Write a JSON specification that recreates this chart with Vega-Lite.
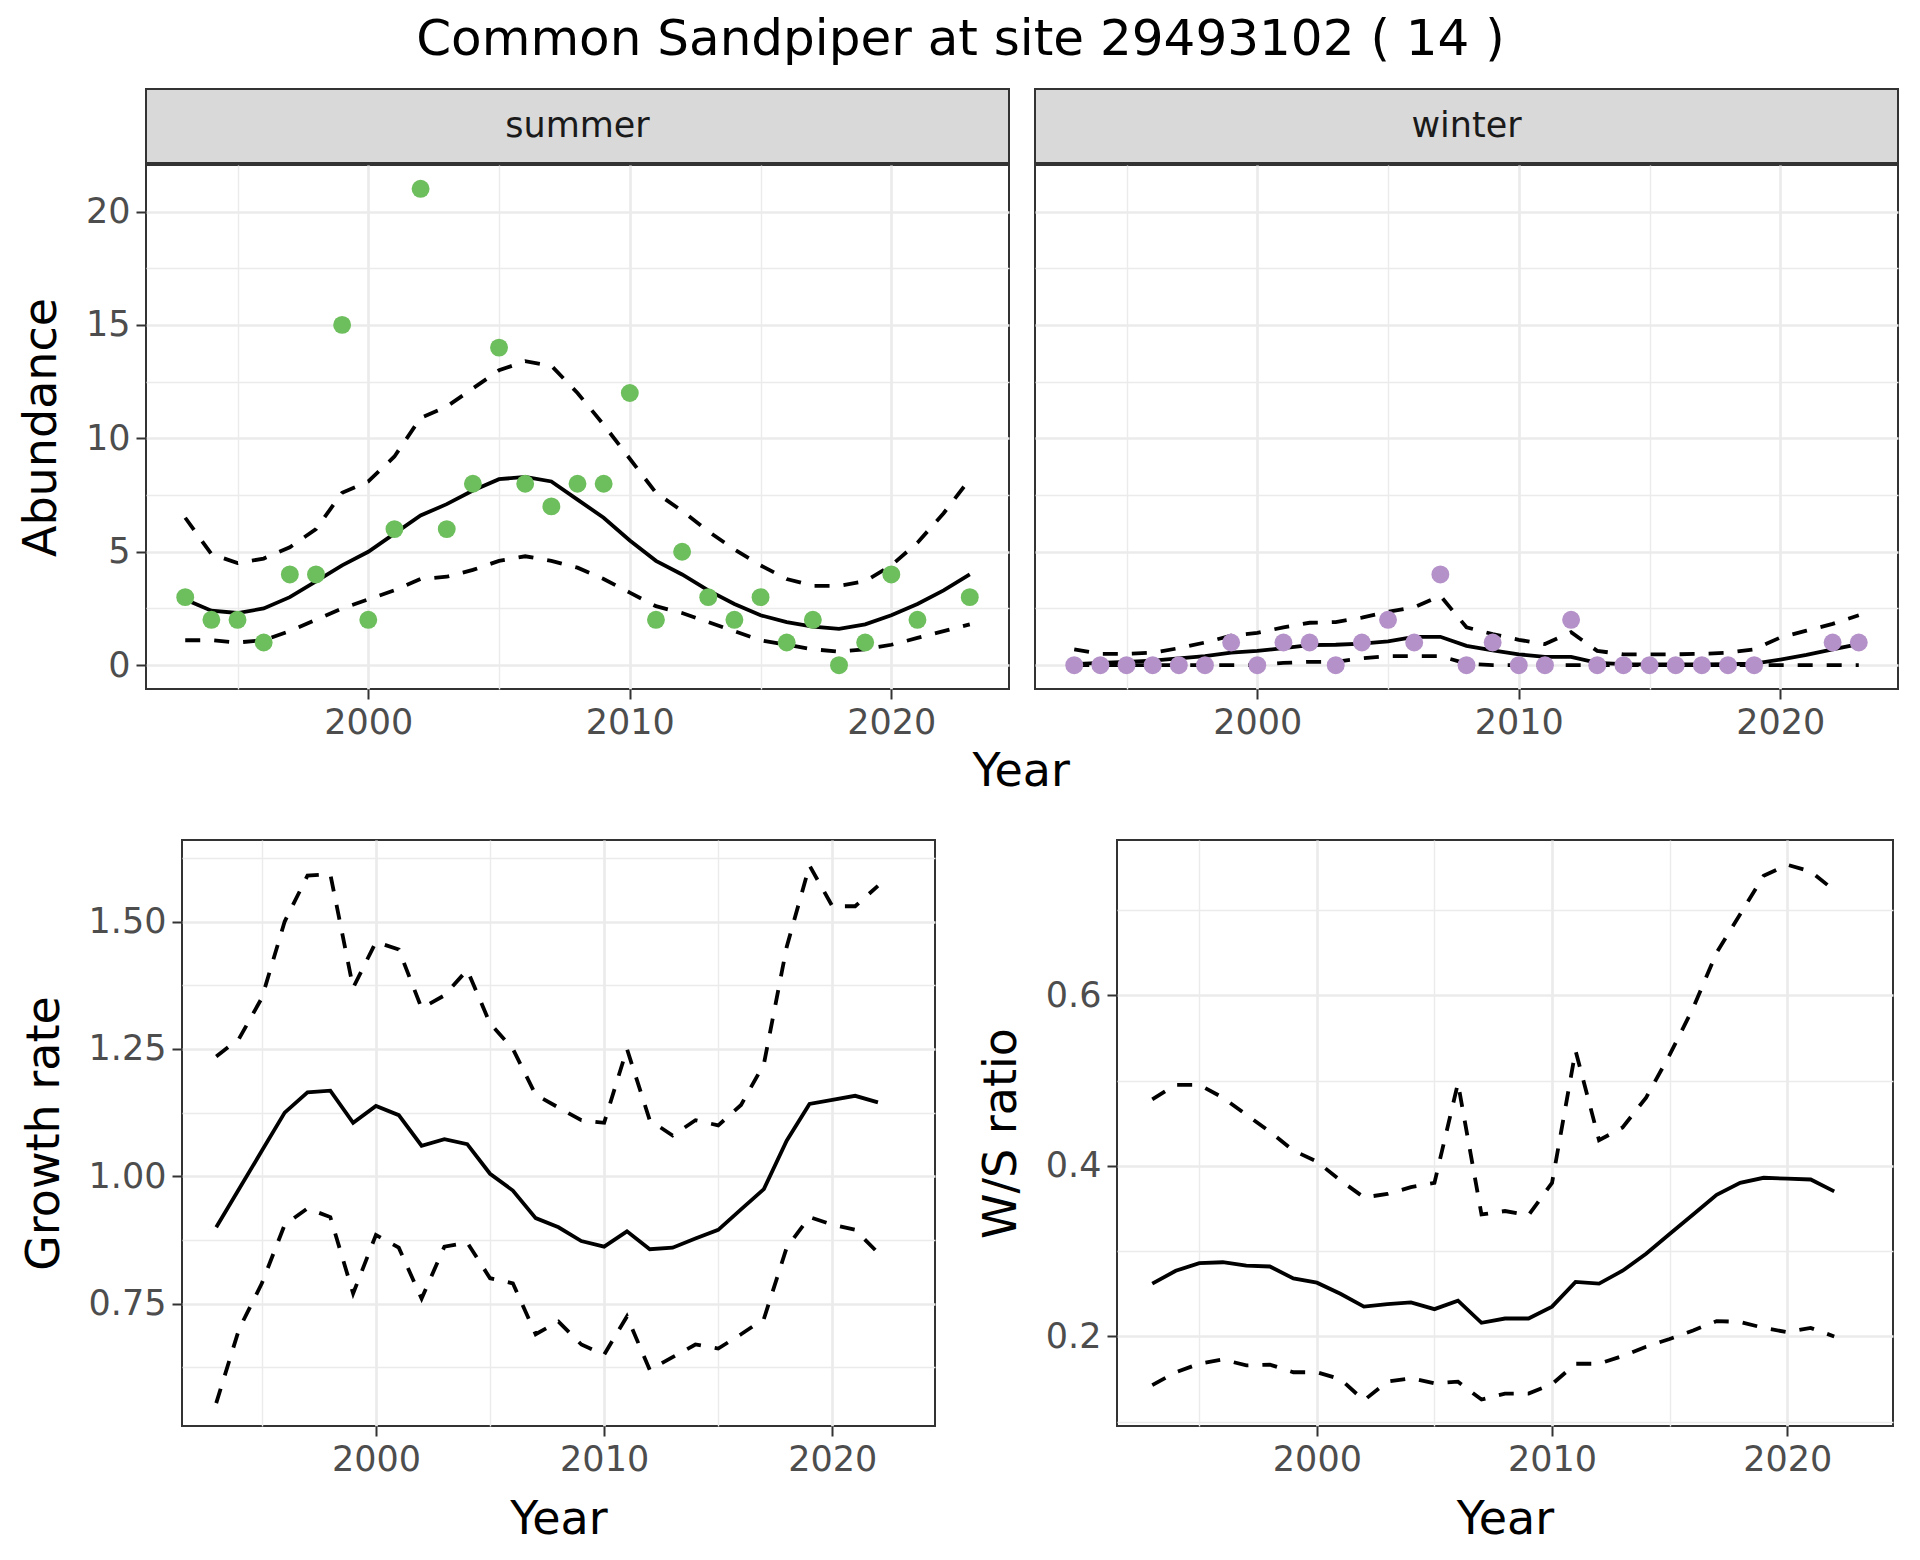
{
  "$schema": "https://vega.github.io/schema/vega-lite/v6.json",
  "padding": {"left": 0, "top": 15, "right": 5, "bottom": 5},
  "background": "white",
  "title": {"text": "Common Sandpiper at site 29493102 ( 14 )", "anchor": "middle", "dx": 11, "fontSize": 50, "fontWeight": "normal", "font": "DejaVu Sans", "color": "black", "offset": 23},
  "config": {
    "font": "DejaVu Sans",
    "view": {"stroke": "#333333", "strokeWidth": 2},
    "axis": {"labelFont": "DejaVu Sans", "labelFontSize": 35, "labelColor": "#4D4D4D", "titleFont": "DejaVu Sans", "titleFontSize": 46, "titleColor": "black", "titleFontWeight": "normal", "tickColor": "#333333", "tickWidth": 2, "tickSize": 10, "labelPadding": 6, "titlePadding": 20, "domain": false, "gridColor": "#EBEBEB", "gridWidth": 2.7}
  },
  "datasets": {
    "summer": [
      {"year": 1993, "count": 3, "fit": 2.9, "lwr": 1.1, "upr": 6.5},
      {"year": 1994, "count": 2, "fit": 2.4, "lwr": 1.1, "upr": 4.9},
      {"year": 1995, "count": 2, "fit": 2.3, "lwr": 1.0, "upr": 4.5},
      {"year": 1996, "count": 1, "fit": 2.5, "lwr": 1.1, "upr": 4.7},
      {"year": 1997, "count": 4, "fit": 3.0, "lwr": 1.5, "upr": 5.2},
      {"year": 1998, "count": 4, "fit": 3.7, "lwr": 2.0, "upr": 6.0},
      {"year": 1999, "count": 15, "fit": 4.4, "lwr": 2.5, "upr": 7.6},
      {"year": 2000, "count": 2, "fit": 5.0, "lwr": 2.9, "upr": 8.1},
      {"year": 2001, "count": 6, "fit": 5.8, "lwr": 3.3, "upr": 9.2},
      {"year": 2002, "count": 21, "fit": 6.6, "lwr": 3.8, "upr": 10.9},
      {"year": 2003, "count": 6, "fit": 7.1, "lwr": 3.9, "upr": 11.4},
      {"year": 2004, "count": 8, "fit": 7.7, "lwr": 4.2, "upr": 12.2},
      {"year": 2005, "count": 14, "fit": 8.2, "lwr": 4.6, "upr": 13.0},
      {"year": 2006, "count": 8, "fit": 8.3, "lwr": 4.8, "upr": 13.4},
      {"year": 2007, "count": 7, "fit": 8.1, "lwr": 4.6, "upr": 13.2},
      {"year": 2008, "count": 8, "fit": 7.3, "lwr": 4.3, "upr": 12.0},
      {"year": 2009, "count": 8, "fit": 6.5, "lwr": 3.8, "upr": 10.6},
      {"year": 2010, "count": 12, "fit": 5.5, "lwr": 3.2, "upr": 9.1},
      {"year": 2011, "count": 2, "fit": 4.6, "lwr": 2.6, "upr": 7.6},
      {"year": 2012, "count": 5, "fit": 4.0, "lwr": 2.3, "upr": 6.8},
      {"year": 2013, "count": 3, "fit": 3.3, "lwr": 1.9, "upr": 5.9},
      {"year": 2014, "count": 2, "fit": 2.7, "lwr": 1.5, "upr": 5.1},
      {"year": 2015, "count": 3, "fit": 2.2, "lwr": 1.1, "upr": 4.4},
      {"year": 2016, "count": 1, "fit": 1.9, "lwr": 0.9, "upr": 3.8},
      {"year": 2017, "count": 2, "fit": 1.7, "lwr": 0.7, "upr": 3.5},
      {"year": 2018, "count": 0, "fit": 1.6, "lwr": 0.6, "upr": 3.5},
      {"year": 2019, "count": 1, "fit": 1.8, "lwr": 0.7, "upr": 3.7},
      {"year": 2020, "count": 4, "fit": 2.2, "lwr": 0.9, "upr": 4.4},
      {"year": 2021, "count": 2, "fit": 2.7, "lwr": 1.2, "upr": 5.4},
      {"year": 2022, "count": null, "fit": 3.3, "lwr": 1.5, "upr": 6.7},
      {"year": 2023, "count": 3, "fit": 4.0, "lwr": 1.8, "upr": 8.2}
    ],
    "winter": [
      {"year": 1993, "count": 0, "fit": 0.05, "lwr": 0.0, "upr": 0.7},
      {"year": 1994, "count": 0, "fit": 0.1, "lwr": 0.0, "upr": 0.5},
      {"year": 1995, "count": 0, "fit": 0.15, "lwr": 0.0, "upr": 0.5},
      {"year": 1996, "count": 0, "fit": 0.2, "lwr": 0.0, "upr": 0.55},
      {"year": 1997, "count": 0, "fit": 0.3, "lwr": 0.0, "upr": 0.75},
      {"year": 1998, "count": 0, "fit": 0.4, "lwr": 0.0, "upr": 1.0},
      {"year": 1999, "count": 1, "fit": 0.55, "lwr": 0.0, "upr": 1.3},
      {"year": 2000, "count": 0, "fit": 0.63, "lwr": 0.0, "upr": 1.42},
      {"year": 2001, "count": 1, "fit": 0.75, "lwr": 0.1, "upr": 1.67},
      {"year": 2002, "count": 1, "fit": 0.88, "lwr": 0.15, "upr": 1.87},
      {"year": 2003, "count": 0, "fit": 0.9, "lwr": 0.15, "upr": 1.9},
      {"year": 2004, "count": 1, "fit": 0.95, "lwr": 0.3, "upr": 2.1},
      {"year": 2005, "count": 2, "fit": 1.05, "lwr": 0.4, "upr": 2.35},
      {"year": 2006, "count": 1, "fit": 1.25, "lwr": 0.4, "upr": 2.55},
      {"year": 2007, "count": 4, "fit": 1.25, "lwr": 0.4, "upr": 3.06},
      {"year": 2008, "count": 0, "fit": 0.85, "lwr": 0.07, "upr": 1.67},
      {"year": 2009, "count": 1, "fit": 0.65, "lwr": 0.0, "upr": 1.37},
      {"year": 2010, "count": 0, "fit": 0.48, "lwr": 0.0, "upr": 1.12},
      {"year": 2011, "count": 0, "fit": 0.37, "lwr": 0.0, "upr": 0.93},
      {"year": 2012, "count": 2, "fit": 0.37, "lwr": 0.0, "upr": 1.45},
      {"year": 2013, "count": 0, "fit": 0.1, "lwr": 0.0, "upr": 0.63},
      {"year": 2014, "count": 0, "fit": 0.05, "lwr": 0.0, "upr": 0.48},
      {"year": 2015, "count": 0, "fit": 0.03, "lwr": 0.0, "upr": 0.48},
      {"year": 2016, "count": 0, "fit": 0.03, "lwr": 0.0, "upr": 0.48},
      {"year": 2017, "count": 0, "fit": 0.03, "lwr": 0.0, "upr": 0.5},
      {"year": 2018, "count": 0, "fit": 0.04, "lwr": 0.0, "upr": 0.55},
      {"year": 2019, "count": 0, "fit": 0.07, "lwr": 0.0, "upr": 0.7},
      {"year": 2020, "count": null, "fit": 0.25, "lwr": 0.0, "upr": 1.22},
      {"year": 2021, "count": null, "fit": 0.45, "lwr": 0.0, "upr": 1.52},
      {"year": 2022, "count": 1, "fit": 0.7, "lwr": 0.0, "upr": 1.82},
      {"year": 2023, "count": 1, "fit": 0.93, "lwr": 0.0, "upr": 2.2}
    ],
    "growth": [
      {"year": 1993, "fit": 0.9, "lwr": 0.555, "upr": 1.235},
      {"year": 1994, "fit": 0.975, "lwr": 0.7, "upr": 1.27},
      {"year": 1995, "fit": 1.05, "lwr": 0.79, "upr": 1.35},
      {"year": 1996, "fit": 1.125, "lwr": 0.905, "upr": 1.5},
      {"year": 1997, "fit": 1.165, "lwr": 0.937, "upr": 1.59},
      {"year": 1998, "fit": 1.168, "lwr": 0.92, "upr": 1.593},
      {"year": 1999, "fit": 1.105, "lwr": 0.77, "upr": 1.37},
      {"year": 2000, "fit": 1.138, "lwr": 0.885, "upr": 1.46},
      {"year": 2001, "fit": 1.12, "lwr": 0.86, "upr": 1.445},
      {"year": 2002, "fit": 1.06, "lwr": 0.76, "upr": 1.33},
      {"year": 2003, "fit": 1.073, "lwr": 0.862, "upr": 1.355},
      {"year": 2004, "fit": 1.063, "lwr": 0.87, "upr": 1.405},
      {"year": 2005, "fit": 1.005, "lwr": 0.8, "upr": 1.3},
      {"year": 2006, "fit": 0.972, "lwr": 0.79, "upr": 1.25},
      {"year": 2007, "fit": 0.918, "lwr": 0.69, "upr": 1.16},
      {"year": 2008, "fit": 0.9, "lwr": 0.715, "upr": 1.135},
      {"year": 2009, "fit": 0.873, "lwr": 0.67, "upr": 1.11},
      {"year": 2010, "fit": 0.862, "lwr": 0.65, "upr": 1.105},
      {"year": 2011, "fit": 0.892, "lwr": 0.725, "upr": 1.25},
      {"year": 2012, "fit": 0.857, "lwr": 0.62, "upr": 1.11},
      {"year": 2013, "fit": 0.86, "lwr": 0.645, "upr": 1.08},
      {"year": 2014, "fit": 0.878, "lwr": 0.67, "upr": 1.11},
      {"year": 2015, "fit": 0.895, "lwr": 0.662, "upr": 1.1},
      {"year": 2016, "fit": 0.935, "lwr": 0.69, "upr": 1.14},
      {"year": 2017, "fit": 0.975, "lwr": 0.72, "upr": 1.22},
      {"year": 2018, "fit": 1.07, "lwr": 0.86, "upr": 1.45},
      {"year": 2019, "fit": 1.142, "lwr": 0.92, "upr": 1.61},
      {"year": 2020, "fit": 1.15, "lwr": 0.905, "upr": 1.53},
      {"year": 2021, "fit": 1.158, "lwr": 0.895, "upr": 1.53},
      {"year": 2022, "fit": 1.145, "lwr": 0.85, "upr": 1.57}
    ],
    "ws": [
      {"year": 1993, "fit": 0.262, "lwr": 0.143, "upr": 0.478},
      {"year": 1994, "fit": 0.277, "lwr": 0.158, "upr": 0.495},
      {"year": 1995, "fit": 0.286, "lwr": 0.168, "upr": 0.495},
      {"year": 1996, "fit": 0.287, "lwr": 0.173, "upr": 0.48},
      {"year": 1997, "fit": 0.283, "lwr": 0.166, "upr": 0.46},
      {"year": 1998, "fit": 0.282, "lwr": 0.167, "upr": 0.44},
      {"year": 1999, "fit": 0.268, "lwr": 0.158, "upr": 0.418},
      {"year": 2000, "fit": 0.263, "lwr": 0.158, "upr": 0.405},
      {"year": 2001, "fit": 0.25, "lwr": 0.15, "upr": 0.383},
      {"year": 2002, "fit": 0.235, "lwr": 0.125, "upr": 0.363},
      {"year": 2003, "fit": 0.238, "lwr": 0.147, "upr": 0.367},
      {"year": 2004, "fit": 0.24, "lwr": 0.151, "upr": 0.375},
      {"year": 2005, "fit": 0.232, "lwr": 0.145, "upr": 0.38},
      {"year": 2006, "fit": 0.242, "lwr": 0.147, "upr": 0.497},
      {"year": 2007, "fit": 0.216, "lwr": 0.126, "upr": 0.343},
      {"year": 2008, "fit": 0.221, "lwr": 0.133, "upr": 0.347},
      {"year": 2009, "fit": 0.221, "lwr": 0.133, "upr": 0.342},
      {"year": 2010, "fit": 0.235, "lwr": 0.144, "upr": 0.38},
      {"year": 2011, "fit": 0.264, "lwr": 0.168, "upr": 0.535},
      {"year": 2012, "fit": 0.262, "lwr": 0.168, "upr": 0.43},
      {"year": 2013, "fit": 0.277, "lwr": 0.177, "upr": 0.445},
      {"year": 2014, "fit": 0.297, "lwr": 0.188, "upr": 0.48},
      {"year": 2015, "fit": 0.32, "lwr": 0.197, "upr": 0.53},
      {"year": 2016, "fit": 0.343, "lwr": 0.207, "upr": 0.585},
      {"year": 2017, "fit": 0.366, "lwr": 0.218, "upr": 0.65},
      {"year": 2018, "fit": 0.38, "lwr": 0.217, "upr": 0.695},
      {"year": 2019, "fit": 0.386, "lwr": 0.21, "upr": 0.74},
      {"year": 2020, "fit": 0.385, "lwr": 0.205, "upr": 0.753},
      {"year": 2021, "fit": 0.384, "lwr": 0.21, "upr": 0.745},
      {"year": 2022, "fit": 0.37, "lwr": 0.2, "upr": 0.723}
    ],
    "stripSummer": [{"season": "summer"}],
    "stripWinter": [{"season": "winter"}],
    "blank": [{"note": ""}]
  },
  "spacing": 44,
  "vconcat": [
    {
      "spacing": 0,
      "hconcat": [
        {
          "width": 17, "height": 10,
          "view": {"fill": "white", "stroke": null},
          "data": {"name": "blank"},
          "mark": {"type": "text"},
          "encoding": {"text": {"field": "note"}}
        },
        {
          "title": {"text": "Year", "orient": "bottom", "anchor": "middle", "dx": 63, "fontSize": 46, "fontWeight": "normal", "font": "DejaVu Sans", "color": "black", "offset": 9},
          "spacing": 24,
          "hconcat": [
            {
              "spacing": 0,
              "vconcat": [
                {
                  "width": 863, "height": 74,
                  "view": {"fill": "#D9D9D9", "stroke": "#333333", "strokeWidth": 2},
                  "data": {"name": "stripSummer"},
                  "mark": {"type": "text", "fontSize": 35, "color": "#1A1A1A", "font": "DejaVu Sans", "baseline": "middle"},
                  "encoding": {
                    "x": {"field": "season", "type": "nominal", "axis": null},
                    "y": {"field": "season", "type": "nominal", "axis": null},
                    "text": {"field": "season"}
                  }
                },
                {
                  "width": 863, "height": 524,
                  "data": {"name": "summer"},
                  "resolve": {"axis": {"x": "independent", "y": "independent"}},
                  "layer": [
                    {
                      "mark": {"type": "line", "color": "black", "strokeWidth": 3.8, "strokeDash": [15, 14]},
                      "encoding": {
                        "x": {"field": "year", "type": "quantitative", "scale": {"domain": [1991.5, 2024.5], "nice": false, "zero": false}, "axis": {"orient": "bottom", "values": [1995, 2005, 2015], "grid": true, "gridWidth": 1.4, "labels": false, "ticks": false, "domain": false, "title": null, "minExtent": 0, "maxExtent": 0}},
                        "y": {"field": "lwr", "type": "quantitative", "scale": {"domain": [-1.05, 22.05], "nice": false, "zero": false}, "axis": {"orient": "left", "values": [2.5, 7.5, 12.5, 17.5], "grid": true, "gridWidth": 1.4, "labels": false, "ticks": false, "domain": false, "title": null, "minExtent": 0, "maxExtent": 0}}
                      }
                    },
                    {
                      "mark": {"type": "line", "color": "black", "strokeWidth": 3.8, "strokeDash": [15, 14]},
                      "encoding": {
                        "x": {"field": "year", "type": "quantitative", "axis": null},
                        "y": {"field": "upr", "type": "quantitative", "axis": null}
                      }
                    },
                    {
                      "mark": {"type": "line", "color": "black", "strokeWidth": 3.8},
                      "encoding": {
                        "x": {"field": "year", "type": "quantitative", "axis": {"orient": "bottom", "values": [2000, 2010, 2020], "format": "d", "grid": true, "title": null}},
                        "y": {"field": "fit", "type": "quantitative", "axis": {"orient": "left", "values": [0, 5, 10, 15, 20], "grid": true, "title": "Abundance"}}
                      }
                    },
                    {
                      "transform": [{"filter": "datum.count != null"}],
                      "mark": {"type": "circle", "color": "#6DBE5C", "opacity": 1, "size": 320},
                      "encoding": {
                        "x": {"field": "year", "type": "quantitative", "axis": null},
                        "y": {"field": "count", "type": "quantitative", "axis": null}
                      }
                    }
                  ]
                }
              ]
            },
            {
              "spacing": 0,
              "vconcat": [
                {
                  "width": 863, "height": 74,
                  "view": {"fill": "#D9D9D9", "stroke": "#333333", "strokeWidth": 2},
                  "data": {"name": "stripWinter"},
                  "mark": {"type": "text", "fontSize": 35, "color": "#1A1A1A", "font": "DejaVu Sans", "baseline": "middle"},
                  "encoding": {
                    "x": {"field": "season", "type": "nominal", "axis": null},
                    "y": {"field": "season", "type": "nominal", "axis": null},
                    "text": {"field": "season"}
                  }
                },
                {
                  "width": 863, "height": 524,
                  "data": {"name": "winter"},
                  "resolve": {"axis": {"x": "independent", "y": "independent"}},
                  "layer": [
                    {
                      "mark": {"type": "line", "color": "black", "strokeWidth": 3.8, "strokeDash": [15, 14]},
                      "encoding": {
                        "x": {"field": "year", "type": "quantitative", "scale": {"domain": [1991.5, 2024.5], "nice": false, "zero": false}, "axis": {"orient": "bottom", "values": [1995, 2005, 2015], "grid": true, "gridWidth": 1.4, "labels": false, "ticks": false, "domain": false, "title": null, "minExtent": 0, "maxExtent": 0}},
                        "y": {"field": "lwr", "type": "quantitative", "scale": {"domain": [-1.05, 22.05], "nice": false, "zero": false}, "axis": {"orient": "left", "values": [2.5, 7.5, 12.5, 17.5], "grid": true, "gridWidth": 1.4, "labels": false, "ticks": false, "domain": false, "title": null, "minExtent": 0, "maxExtent": 0}}
                      }
                    },
                    {
                      "mark": {"type": "line", "color": "black", "strokeWidth": 3.8, "strokeDash": [15, 14]},
                      "encoding": {
                        "x": {"field": "year", "type": "quantitative", "axis": null},
                        "y": {"field": "upr", "type": "quantitative", "axis": null}
                      }
                    },
                    {
                      "mark": {"type": "line", "color": "black", "strokeWidth": 3.8},
                      "encoding": {
                        "x": {"field": "year", "type": "quantitative", "axis": {"orient": "bottom", "values": [2000, 2010, 2020], "format": "d", "grid": true, "title": null}},
                        "y": {"field": "fit", "type": "quantitative", "axis": {"orient": "left", "values": [0, 5, 10, 15, 20], "grid": true, "labels": false, "ticks": false, "title": null, "minExtent": 0, "maxExtent": 0}}
                      }
                    },
                    {
                      "transform": [{"filter": "datum.count != null"}],
                      "mark": {"type": "circle", "color": "#B491C8", "opacity": 1, "size": 320},
                      "encoding": {
                        "x": {"field": "year", "type": "quantitative", "axis": null},
                        "y": {"field": "count", "type": "quantitative", "axis": null}
                      }
                    }
                  ]
                }
              ]
            }
          ]
        }
      ]
    },
    {
      "spacing": 0,
      "hconcat": [
        {
          "width": 20, "height": 10,
          "view": {"fill": "white", "stroke": null},
          "data": {"name": "blank"},
          "mark": {"type": "text"},
          "encoding": {"text": {"field": "note"}}
        },
        {
          "spacing": 41,
          "hconcat": [
            {
              "width": 753, "height": 586,
              "data": {"name": "growth"},
              "resolve": {"axis": {"x": "independent", "y": "independent"}},
              "layer": [
                {
                  "mark": {"type": "line", "color": "black", "strokeWidth": 3.8, "strokeDash": [15, 14]},
                  "encoding": {
                    "x": {"field": "year", "type": "quantitative", "scale": {"domain": [1991.5, 2024.5], "nice": false, "zero": false}, "axis": {"orient": "bottom", "values": [1995, 2005, 2015], "grid": true, "gridWidth": 1.4, "labels": false, "ticks": false, "domain": false, "title": null, "minExtent": 0, "maxExtent": 0}},
                    "y": {"field": "lwr", "type": "quantitative", "scale": {"domain": [0.51, 1.66], "nice": false, "zero": false}, "axis": {"orient": "left", "values": [0.625, 0.875, 1.125, 1.375, 1.625], "grid": true, "gridWidth": 1.4, "labels": false, "ticks": false, "domain": false, "title": null, "minExtent": 0, "maxExtent": 0}}
                  }
                },
                {
                  "mark": {"type": "line", "color": "black", "strokeWidth": 3.8, "strokeDash": [15, 14]},
                  "encoding": {
                    "x": {"field": "year", "type": "quantitative", "axis": null},
                    "y": {"field": "upr", "type": "quantitative", "axis": null}
                  }
                },
                {
                  "mark": {"type": "line", "color": "black", "strokeWidth": 3.8},
                  "encoding": {
                    "x": {"field": "year", "type": "quantitative", "axis": {"orient": "bottom", "values": [2000, 2010, 2020], "format": "d", "grid": true, "title": "Year"}},
                    "y": {"field": "fit", "type": "quantitative", "axis": {"orient": "left", "values": [0.75, 1.0, 1.25, 1.5], "format": ".2f", "grid": true, "title": "Growth rate"}}
                  }
                }
              ]
            },
            {
              "width": 776, "height": 586,
              "data": {"name": "ws"},
              "resolve": {"axis": {"x": "independent", "y": "independent"}},
              "layer": [
                {
                  "mark": {"type": "line", "color": "black", "strokeWidth": 3.8, "strokeDash": [15, 14]},
                  "encoding": {
                    "x": {"field": "year", "type": "quantitative", "scale": {"domain": [1991.5, 2024.5], "nice": false, "zero": false}, "axis": {"orient": "bottom", "values": [1995, 2005, 2015], "grid": true, "gridWidth": 1.4, "labels": false, "ticks": false, "domain": false, "title": null, "minExtent": 0, "maxExtent": 0}},
                    "y": {"field": "lwr", "type": "quantitative", "scale": {"domain": [0.095, 0.782], "nice": false, "zero": false}, "axis": {"orient": "left", "values": [0.1, 0.3, 0.5, 0.7], "grid": true, "gridWidth": 1.4, "labels": false, "ticks": false, "domain": false, "title": null, "minExtent": 0, "maxExtent": 0}}
                  }
                },
                {
                  "mark": {"type": "line", "color": "black", "strokeWidth": 3.8, "strokeDash": [15, 14]},
                  "encoding": {
                    "x": {"field": "year", "type": "quantitative", "axis": null},
                    "y": {"field": "upr", "type": "quantitative", "axis": null}
                  }
                },
                {
                  "mark": {"type": "line", "color": "black", "strokeWidth": 3.8},
                  "encoding": {
                    "x": {"field": "year", "type": "quantitative", "axis": {"orient": "bottom", "values": [2000, 2010, 2020], "format": "d", "grid": true, "title": "Year"}},
                    "y": {"field": "fit", "type": "quantitative", "axis": {"orient": "left", "values": [0.2, 0.4, 0.6], "format": ".1f", "grid": true, "title": "W/S ratio"}}
                  }
                }
              ]
            }
          ]
        }
      ]
    }
  ]
}
